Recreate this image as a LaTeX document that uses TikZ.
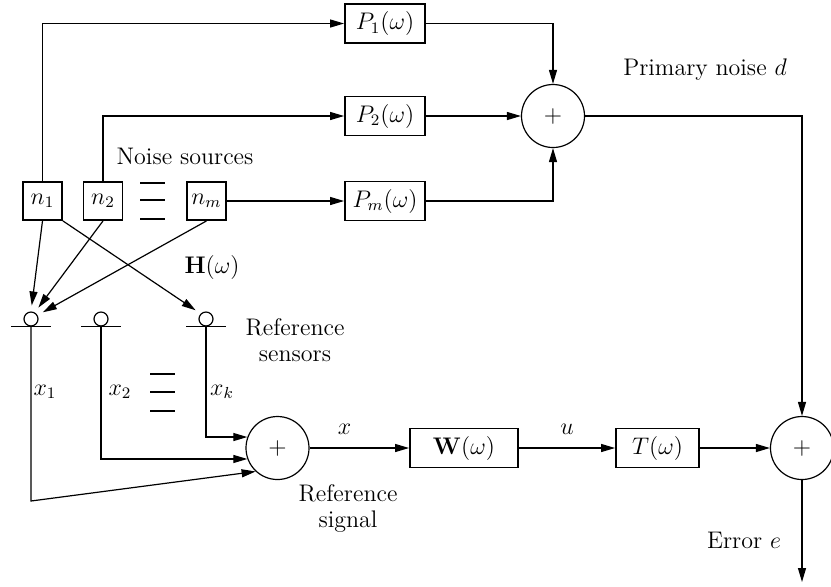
\documentclass[tikz,border=0pt]{standalone}
\usepackage{amsmath}
\usetikzlibrary{arrows.meta}

\begin{document}
\begin{tikzpicture}[x=0.5pt,y=-0.5pt,
    font=\fontsize{12}{13}\selectfont,
    blk/.style={draw, line width=0.9pt, minimum height=19.5pt, inner sep=2pt},
    src/.style={draw, line width=0.9pt, minimum width=19.5pt, minimum height=19pt, inner sep=0pt},
    sumnode/.style={circle, draw, line width=0.6pt, minimum size=31.5pt, inner sep=0pt},
    sensor/.style={circle, draw, line width=0.6pt, minimum size=7pt, inner sep=0pt},
    wire/.style={line width=0.6pt},
    sig/.style={wire, -{Triangle[length=7pt,width=4pt]}}]
  \useasboundingbox (0,0) rectangle (831,586);

  % noise sources and primary paths
  \node[src] (n1) at (42.5,201) {$n_1$};
  \node[src] (n2) at (103,201) {$n_2$};
  \node[src] (nm) at (206.5,201) {$n_m$};
  \foreach \y in {183,200,219} \draw[wire] (140,\y) -- (165,\y);
  \node at (185,156) {Noise sources};

  \node[blk, minimum width=40pt] (P1) at (385,23.5) {$P_1(\omega)$};
  \node[blk, minimum width=40pt] (P2) at (385,116) {$P_2(\omega)$};
  \node[blk, minimum width=40pt] (Pm) at (385,201) {$P_m(\omega)$};
  \node[sumnode] (sum1) at (553,116) {$+$};
  \node at (705,70) {Primary noise $d$};

  \draw[sig] (n1.north) |- (P1.west);
  \draw[sig] (n2.north) |- (P2.west);
  \draw[sig] (nm.east) -- (Pm.west);
  \draw[sig] (P1.east) -| (sum1.north);
  \draw[sig] (P2.east) -- (sum1.west);
  \draw[sig] (Pm.east) -| (sum1.south);

  % reference sensors
  \node[sensor] (s1) at (31,319) {};
  \node[sensor] (s2) at (101,319) {};
  \node[sensor] (sk) at (206,319) {};
  \foreach \s in {s1,s2,sk}
    \draw[wire] ([xshift=-10pt]\s.south) -- ([xshift=10pt]\s.south);
  \node at (212,267) {$\mathbf{H}(\omega)$};
  \node[align=center] (refsens) at (295,340) {Reference\\sensors};

  \draw[sig, shorten >=3pt] (n1.south) -- (s1.north);
  \draw[sig, shorten >=3pt] (n2.south) -- (s1.60);
  \draw[sig, shorten >=3pt] (nm.south) -- (s1.30);
  \draw[sig, shorten >=3pt] (n1.south east) -- (sk.135);

  % reference signal
  \node[sumnode] (sum2) at (277.5,448) {$+$};
  \node[align=center] at (348,508) {Reference\\signal};
  \coordinate (c1) at (31,501);
  \draw[sig] (s1.south) -- (c1) -- (sum2.227);
  \draw[sig] (s2.south) |- (sum2.200);
  \draw[sig] (sk.south) |- (sum2.160);
  \node at (45,392) {$x_1$};
  \node at (120,392) {$x_2$};
  \node at (222,392) {$x_k$};
  \foreach \y in {374,392,411} \draw[wire] (150,\y) -- (175,\y);

  % control path
  \node[blk, minimum width=54pt] (W) at (464,448) {$\mathbf{W}(\omega)$};
  \node[blk, minimum width=41.5pt] (T) at (657.5,448) {$T(\omega)$};
  \node[sumnode] (sum3) at (802,448) {$+$};
  \coordinate (eout) at (802,582);
  \node at (744,540) {Error $e$};

  \draw[sig] (sum2.east) -- node[pos=0.35, above=3pt] {$x$} (W.west);
  \draw[sig] (W.east) -- node[above=3pt] {$u$} (T.west);
  \draw[sig] (T.east) -- (sum3.west);
  \draw[sig] (sum1.east) -| (sum3.north);
  \draw[sig] (sum3.south) -- (eout);
\end{tikzpicture}
\end{document}
